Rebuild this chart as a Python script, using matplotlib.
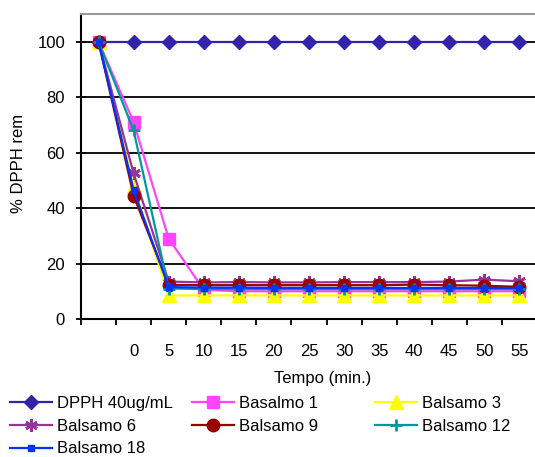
import matplotlib.pyplot as plt

plt.rcParams['font.family'] = ['Liberation Sans', 'DejaVu Sans']

# categorías del eje x (la primera posición no tiene etiqueta)
tempo = ["", "0", "5", "10", "15", "20", "25", "30", "35", "40", "45", "50", "55"]

dpph = [100] * 13
basalmo_1 = [100, 71, 29, 10.5, 10, 10, 10, 10, 10, 10, 10, 10, 10]
balsamo_3 = [100, 48, 8.5, 8.5, 8.5, 8.5, 8.5, 8.5, 8.5, 8.5, 8.5, 8.5, 8.5]
balsamo_6 = [100, 52.5, 13.5, 13.2, 13.3, 13.2, 13.2, 13.3, 13.3, 13.3, 13.5, 14.2, 13.6]
balsamo_9 = [100, 44.5, 12.3, 12.2, 12.2, 12.2, 12.2, 12.2, 12.2, 12.4, 12.2, 12.0, 11.6]
balsamo_12 = [100, 68, 11.0, 10.8, 10.8, 10.8, 10.8, 10.8, 10.8, 10.8, 10.8, 10.8, 10.8]
balsamo_18 = [100, 46.5, 11.5, 11.3, 11.3, 11.2, 11.2, 11.2, 11.2, 11.2, 11.2, 11.2, 11.2]

series = [
    ("DPPH 40ug/mL", dpph, "#3322aa", "D", 7.5),
    ("Basalmo 1", basalmo_1, "#ff44ff", "s", 9),
    ("Balsamo 3", balsamo_3, "#ffff00", "^", 9.5),
    ("Balsamo 6", balsamo_6, "#993399", (6, 2, 0), 9),
    ("Balsamo 9", balsamo_9, "#990000", "o", 9),
    ("Balsamo 12", balsamo_12, "#009999", "+", 8),
    ("Balsamo 18", balsamo_18, "#0033ff", "s", 4),
]

fig = plt.figure(figsize=(5.35, 4.57), dpi=100)
ax = fig.add_axes([81 / 535, 1 - 319 / 457, 456 / 535, 305 / 457])

x = list(range(len(tempo)))
handles = []
for name, vals, color, marker, ms in series:
    mew = 2 if marker in ("+",) or isinstance(marker, tuple) else 1
    line, = ax.plot(x, vals, color=color, lw=1.6, marker=marker, markersize=ms,
                    markeredgewidth=mew, markeredgecolor=color, label=name, clip_on=False)
    handles.append(line)

ax.set_xlim(-0.5, len(tempo) - 0.5)
ax.set_ylim(0, 110)
ax.set_yticks([0, 20, 40, 60, 80, 100])
for yv in [20, 40, 60, 80, 100]:
    ax.axhline(yv, color="black", lw=1.3, zorder=0)

# ticks at category boundaries, labels at category centers
ax.set_xticks([i - 0.5 for i in range(len(tempo) + 1)])
ax.set_xticklabels([])
ax.set_xticks(x, minor=True)
ax.set_xticklabels(tempo, minor=True, fontsize=12)
ax.tick_params(axis="x", which="major", direction="out", length=4, width=1.3)
ax.tick_params(axis="x", which="minor", length=0, pad=18)
ax.tick_params(axis="y", direction="inout", length=7, width=1.3, pad=8, labelsize=12)

ax.spines["right"].set_visible(False)
ax.spines["top"].set_color("#999999")
ax.spines["top"].set_linewidth(1.5)
ax.spines["left"].set_linewidth(1.5)
ax.spines["bottom"].set_linewidth(1.5)

fig.text(19 / 535, 1 - 163 / 457, "% DPPH rem", rotation=90, ha="center", va="center", fontsize=12)
fig.text(323 / 535, 1 - 379 / 457, "Tempo (min.)", ha="center", va="center", fontsize=12)

columns = [[0, 3, 6], [1, 4], [2, 5]]
col_x = [10, 192, 375]
for idx, cx in zip(columns, col_x):
    leg = fig.legend([handles[i] for i in idx], [series[i][0] for i in idx],
                     loc="upper left", bbox_to_anchor=(cx / 535, 1 - 396 / 457),
                     frameon=False, fontsize=12, handlelength=2.5, handletextpad=0.3,
                     labelspacing=0.46, borderpad=0, borderaxespad=0)

fig.savefig("out.png", dpi=100)
